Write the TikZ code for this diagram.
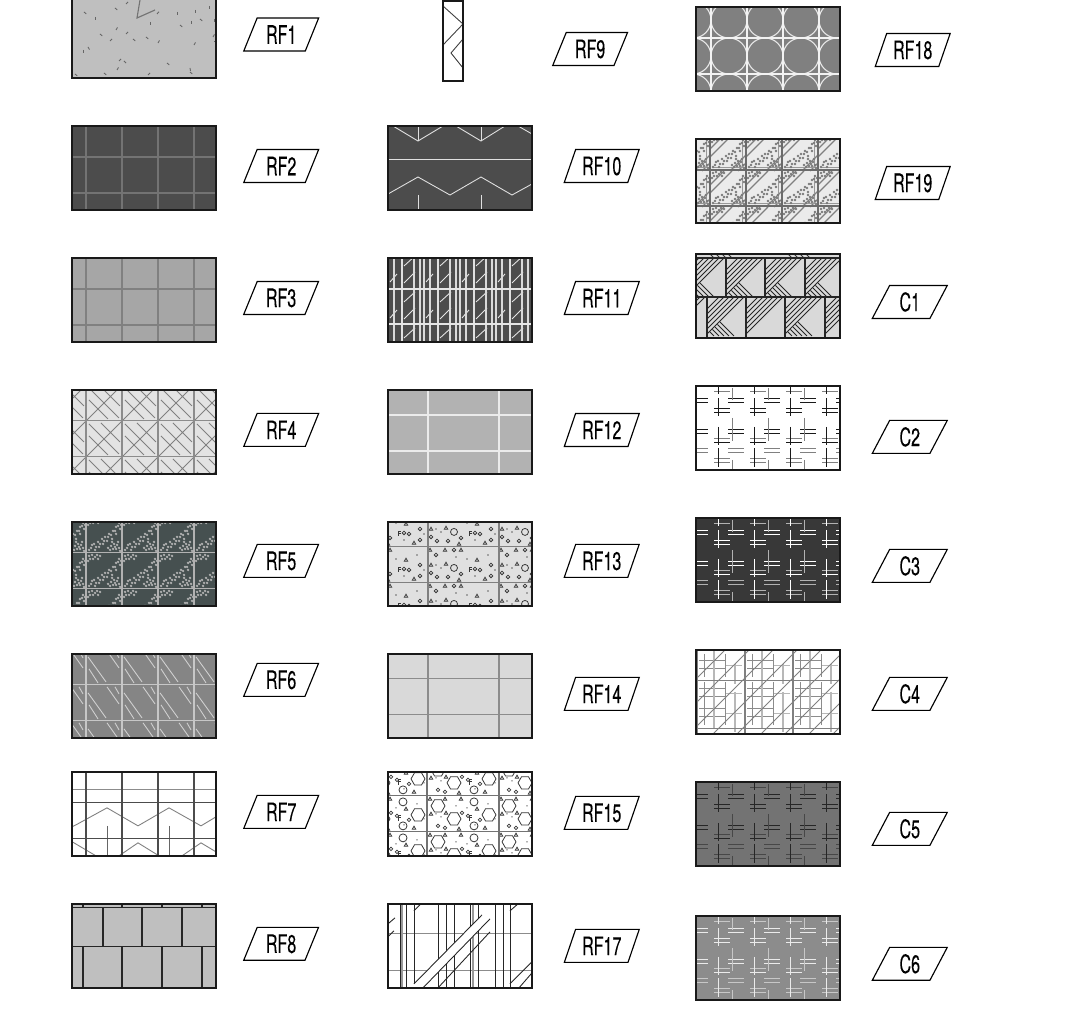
\documentclass[tikz,border=0pt]{standalone}
\usepackage{fontspec}
\setmainfont{TeX Gyre Heros}[FakeStretch=0.63, FakeBold=0.12]
\usetikzlibrary{positioning,shapes.geometric}
\definecolor{rfslate}{HTML}{465050}
\tikzset{
  panelbox/.style={minimum width=2.88cm, minimum height=1.68cm, inner sep=0pt, outer sep=0pt},
  panelframe/.style={line width=1pt, draw=black!90},
  joint/.style={line width=0.65pt},
  thinline/.style={line width=0.5pt},
  finecross/.style={line width=0.55pt},
  pebble/.style={line width=0.45pt, black!78},
  rftag/.style={trapezium, draw, trapezium left angle=65.6, trapezium right angle=114.4,
    trapezium stretches=true, minimum width=1.5cm, minimum height=0.66cm, inner sep=0pt, outer sep=0pt,
    line width=0.65pt, font=\fontsize{14.5}{14.5}\selectfont}
}
\newcommand{\hatchpanel}[4]{%
  \node[panelbox, #2] (#1) {};
  \begin{scope}
    \clip (#1.north west) rectangle (#1.south east);
    \fill[#3] (#1.north west) rectangle (#1.south east);
    \begin{scope}[shift={(#1.north west)}]
      #4
    \end{scope}
  \end{scope}
  \draw[panelframe] (#1.north west) rectangle (#1.south east);
}
\newcommand{\jointgrid}[1]{%
  \foreach \gx in {14,50,86,122} \draw[joint, #1] (\gx,0) -- (\gx,84);
  \foreach \gy in {31,67} \draw[joint, #1] (0,\gy) -- (144,\gy);
}
\newcommand{\widegrid}[1]{%
  \foreach \gx in {40,111} \draw[joint, #1] (\gx,0) -- (\gx,84);
  \foreach \gy in {25,61} \draw[joint, #1] (0,\gy) -- (144,\gy);
}
\newcommand{\graveltile}[1]{%
  \foreach \cx in {-22,14,50,86,122} \foreach \cy in {-5,31,67} {
    \begin{scope}[shift={(\cx,\cy)}]
      \foreach \gx/\gy in {3/3,6/2,9/4,4/6,7/6,11/2,2/8,12/6,14/3,25/29,28/27,31/28,27/32,30/32,33/31,24/33,29/30,22/31,26/25,32/25,34/34,
        5/31,8/27,10/30,12/25,14/27,16/22,18/24,19/20,22/20,23/17,25/18,27/14,29/14,30/10,32/9,6/28,33/6,3/33,9/33,13/30,17/27,21/24,26/22,30/17,34/12,35/8}
        \fill[#1] (\gx,\gy) circle (1.35);
    \end{scope}
  }
}
\newcommand{\pebblebits}{%
  \foreach \gx/\gy in {2/3,17/3,33/3,49/13,18/17,3/18,31/33,57/32}
    \draw[pebble] (\gx,\gy) ++(0,-1.7) -- ++(1.7,3) -- ++(-3.4,0) -- cycle;
  \foreach \gx/\gy in {28/10,39/12,60/8,8/18,13/21,67/23,47/29}
    \fill[black!60] (\gx,\gy) circle (0.85);
  \draw[pebble] (41,25) -- (41,20) -- (44,20) (41,22) -- (43.5,22);
}
\newcommand{\crosstile}[2]{%
  \foreach \cx in {-36,0,36,72,108} {
    \begin{scope}[shift={(\cx,0)}]
      \foreach \gy in {1,6,73,77,53} \draw[finecross, #2] (18,\gy) -- (34,\gy);
      \foreach \gy in {23,27,57} \draw[finecross, #1] (18,\gy) -- (34,\gy);
      \foreach \gy in {13,17,44,48} \draw[finecross, #1] (32,\gy) -- (48,\gy);
      \foreach \gy in {63,67} \draw[finecross, #2] (32,\gy) -- (48,\gy);
      \foreach \ga/\gb in {0/8,12/30,41/59,62/81} \draw[finecross, #1] (22,\ga) -- (22,\gb);
      \foreach \ga/\gb in {2/14,32/55,74/84} \draw[finecross, #2] (36,\ga) -- (36,\gb);
    \end{scope}
  }
}
\begin{document}
\begin{tikzpicture}[x=0.02cm, y=-0.02cm]
  \path[use as bounding box, clip] (0,0) rectangle (1091,1010);

  \hatchpanel{rf1}{at={(72,-6)}, anchor=north west}{black!25}{
    \draw[joint, black!55] (68,6) -- (65,24) -- (83,16);
    \foreach \gx/\gy/\ga in {12/18/40,23/23/90,43/14/40,54/10/-45,85/20/-50,105/18/90,123/16/90,137/12/90,
      108/31/40,119/27/90,128/25/40,142/25/90,78/28/90,44/36/-60,28/40/40,38/47/-45,54/40/-45,61/45/40,
      74/43/40,86/49/-60,122/51/-60,141/43/-60,142/47/0,16/53/60,11/56/90,47/67/-45,52/67/45,45/76/-60,
      95/69/40,118/74/80,118/78/40,32/79/40,3/80/40,76/81/-45}
      \draw[thinline, black!60] (\gx,\gy) -- ++(\ga:3);
  }
  \hatchpanel{rf2}{below=0.96cm of rf1}{black!70}{\jointgrid{black!55}}
  \hatchpanel{rf3}{below=0.96cm of rf2}{black!35}{\jointgrid{black!50}}
  \hatchpanel{rf4}{below=0.96cm of rf3}{black!11}{
    \foreach \cx in {-22,14,50,86,122} \foreach \cy in {-5,31,67} {
      \begin{scope}[shift={(\cx,\cy)}]
        \draw[thinline, black!50] (0,36) -- (36,0) (3,3) -- (33,33) (15,2) -- (34,21) (3,15) -- (22,34);
      \end{scope}
    }
    \jointgrid{black!45}
  }
  \hatchpanel{rf5}{below=0.96cm of rf4}{rfslate}{\graveltile{black!30}\jointgrid{black!30}}
  \hatchpanel{rf6}{below=0.96cm of rf5}{black!48}{
    \foreach \cx in {-22,14,50,86,122} \foreach \cy in {-5,31,67} {
      \begin{scope}[shift={(\cx,\cy)}]
        \draw[thinline, black!18] (2,8) -- (20,33) (3,20) -- (12,34) (21,2) -- (33,19) (29,2) -- (33,9);
      \end{scope}
    }
    \jointgrid{black!22}
  }
  \hatchpanel{rf7}{below=0.68cm of rf6}{white}{
    \draw[thinline, black!45] (0,18) -- (144,18);
    \draw[thinline, black!50] (0,55) -- (4,53) -- (35,36) -- (66,54) -- (97,36) -- (129,54) -- (144,45);
    \draw[thinline, black!50] (0,70) -- (2,71) -- (24,84) (47,84) -- (66,71) -- (87,84) (110,84) -- (129,71) -- (144,80);
    \foreach \gx in {35,97} \draw[thinline, black!60] (\gx,54) -- (\gx,84);
    \jointgrid{black!70}
  }
  \hatchpanel{rf8}{below=0.96cm of rf7}{black!25}{
    \draw[joint, black!85] (0,4) -- (144,4) (0,43) -- (144,43);
    \foreach \gx in {31,70,110} \draw[joint, black!85] (\gx,4) -- (\gx,43);
    \foreach \gx in {11,50,90,130} \draw[joint, black!85] (\gx,0) -- (\gx,4) (\gx,43) -- (\gx,84);
  }

  \hatchpanel{rf9}{at={(443,1)}, anchor=north west, minimum width=0.4cm, minimum height=1.6cm}{white}{
    \draw[thinline, black!75] (0,5) -- (20,23) -- (0,44) (20,38) -- (8,52) -- (20,67);
  }
  \hatchpanel{rf10}{at={(388,126)}, anchor=north west}{black!70}{
    \draw[thinline, black!12] (0,33) -- (144,33);
    \draw[thinline, black!12] (5,0) -- (30,15) -- (55,0) (68,0) -- (93,15) -- (117,0) (130,0) -- (144,8);
    \draw[thinline, black!12] (0,68) -- (30,51) -- (62,69) -- (93,51) -- (124,69) -- (144,58);
    \foreach \gx in {30,93} \draw[thinline, black!12] (\gx,0) -- (\gx,15) (\gx,69) -- (\gx,84);
  }
  \hatchpanel{rf11}{below=0.96cm of rf10}{black!70}{
    \foreach \gx in {14,50,86,122} {
      \begin{scope}[shift={(\gx,0)}]
        \draw[line width=0.9pt, black!12] (0,0) -- (0,84);
        \foreach \gy in {-5,31,67} \draw[thinline, black!10] (2,\gy+30) -- (13,\gy+19) (2,\gy+13) -- (13,\gy+3);
        \foreach \gy in {-5,31,67} \draw[thinline, black!10] (-12,\gy+29) -- (-5,\gy+21);
        \foreach \hx in {-14,-8,12,18} \draw[joint, black!15] (\hx,0) -- (\hx,84);
      \end{scope}
    }
    \foreach \gy in {31,66} \draw[joint, black!10] (0,\gy) -- (144,\gy);
  }
  \hatchpanel{rf12}{below=0.96cm of rf11}{black!30}{\widegrid{black!8}}
  \hatchpanel{rf13}{below=0.96cm of rf12}{black!12}{
    \foreach \cx in {-31,40,111} \foreach \cy in {-11,25,61} {
      \begin{scope}[shift={(\cx,\cy)}]
        \pebblebits
        \draw[pebble] (26,21) circle (3.5);
        \foreach \gx/\gy in {26/3,8/8,3/26,9/30,20/30,33/27,47/22,52/23,63/18,63/29}
          \draw[pebble] (\gx,\gy) circle (1.8);
      \end{scope}
    }
    \widegrid{black!50}
  }
  \hatchpanel{rf14}{below=0.96cm of rf13}{black!15}{\widegrid{black!45}}
  \hatchpanel{rf15}{below=0.68cm of rf14}{white}{
    \foreach \cx in {-31,40,111} \foreach \cy in {-12,24,60} {
      \begin{scope}[shift={(\cx,\cy)}]
        \pebblebits
        \foreach \gx/\gy in {10/10,26/23,61/19}
          \draw[pebble, shift={(\gx,\gy)}] (0:7) -- (60:7) -- (120:7) -- (180:7) -- (240:7) -- (300:7) -- cycle;
        \foreach \gx/\gy in {46/6,46/30} \draw[pebble] (\gx,\gy) circle (4);
        \foreach \gx/\gy in {10/30,17/32,34/17,40/20,52/24} \draw[pebble] (\gx,\gy) circle (1.8);
      \end{scope}
    }
    \foreach \gx in {39,111} \draw[joint, black!55] (\gx,0) -- (\gx,84);
    \foreach \gy in {24,60} \draw[joint, black!55] (0,\gy) -- (144,\gy);
  }
  \hatchpanel{rf17}{below=0.96cm of rf15}{white}{
    \foreach \gy in {30,67} \draw[thinline, black!45] (0,\gy) -- (144,\gy);
    \foreach \gx in {14,85} \draw[joint, black!40] (\gx,0) -- (\gx,84);
    \foreach \gx in {12,18,26,50,58,66,82,90,107,115,122} \draw[thinline, black!85] (\gx,0) -- (\gx,84);
    \fill[white] (26,80) -- (94,11) -- (102,15) -- (35,84) -- (26,84) -- cycle;
    \draw[thinline, black!85] (26,80) -- (94,11) (35,84) -- (102,15) (50,84) -- (102,28);
    \draw[thinline, black!85] (26,7) -- (33,0) (0,20) -- (7,14) (0,33) -- (6,27) (122,7) -- (130,0);
    \draw[thinline, black!85] (122,80) -- (144,58) (131,84) -- (144,69);
  }

  \hatchpanel{rf18}{at={(696,7)}, anchor=north west}{black!50}{
    \foreach \cx in {-3,33,69,105,141} \foreach \cy in {13,49,85}
      \draw[joint, black!10] (\cx,\cy) circle (18);
    \foreach \gx in {15,51,87,123} \draw[joint, black!5] (\gx,0) -- (\gx,84);
    \foreach \gy in {31,67} \draw[joint, black!5] (0,\gy) -- (144,\gy);
  }
  \hatchpanel{rf19}{below=0.96cm of rf18}{black!8}{
    \foreach \cx in {-22,14,50,86,122} \foreach \cy in {-4,32,68} {
      \begin{scope}[shift={(\cx,\cy)}]
        \draw[joint, black!50] (0,14) -- (14,0) (0,22) -- (22,0) (20,36) -- (36,20) (28,36) -- (36,28);
        \draw[thinline, black!40] (3,32) -- (32,32) -- (32,4);
      \end{scope}
    }
    \graveltile{black!52}
    \jointgrid{black!58}
  }
  \hatchpanel{c1}{below=0.62cm of rf19}{black!15}{
    \foreach \gx/\gy in {-9/4,30/4,69/4,109/4,-28/43,11/43,50/43,89/43,129/43} {
      \begin{scope}[shift={(\gx,\gy)}]
        \foreach \gd in {12,17,22,27,32,37} \draw[thinline, black!85] (0,\gd) -- (\gd,0);
      \end{scope}
    }
    \foreach \gx/\gy in {-9/4,30/4,69/4,109/4,11/43,89/43} {
      \begin{scope}[shift={(\gx,\gy)}]
        \foreach \gd in {12,17,22,27,32} \draw[thinline, black!85] ({(38-\gd)/2},{(38+\gd)/2}) -- ({39-\gd},39);
      \end{scope}
    }
    \foreach \gx in {14,20,26,32,92,98,104,110} \draw[thinline, black!80] (\gx,0) -- (\gx+4,4);
    \draw[joint, black!85] (0,4) -- (144,4) (0,43) -- (144,43);
    \foreach \gx in {30,69,109} \draw[joint, black!85] (\gx,4) -- (\gx,43);
    \foreach \gx in {11,50,89,129} \draw[joint, black!85] (\gx,43) -- (\gx,84);
  }
  \hatchpanel{c2}{below=0.96cm of c1}{white}{\crosstile{black!90}{black!50}}
  \hatchpanel{c3}{below=0.96cm of c2}{black!78}{\crosstile{white}{black!30}}
  \hatchpanel{c4}{below=0.96cm of c3}{white}{
    \foreach \cx in {0,48,96} \foreach \cy in {0,28,48} {
      \begin{scope}[shift={(\cx,\cy)}]
        \draw[thinline, black!45] (3,11) -- (30,11) (3,19) -- (30,19) (8,4) -- (8,27) (29,4) -- (29,27);
        \draw[joint, black!28] (30,16) -- (46,16) (18,0) -- (18,30) (39,14) -- (39,34);
      \end{scope}
    }
    \foreach \gd in {29,53,...,221} \draw[thinline, black!50] (0,\gd) -- (\gd,0);
    \foreach \gx in {1,49,97} \draw[joint, black!50] (\gx,0) -- (\gx,84);
    \foreach \gy in {31,79} \draw[joint, black!50] (0,\gy) -- (144,\gy);
  }
  \hatchpanel{c5}{below=0.96cm of c4}{black!55}{\crosstile{black!85}{black!72}}
  \hatchpanel{c6}{below=1cm of c5}{black!45}{\crosstile{black!8}{black!22}}

  \node[rftag, right=0.69cm of rf1, yshift=0.03cm] (rf1tag) {RF1};
  \node[rftag, right=0.69cm of rf2, yshift=0.04cm] (rf2tag) {RF2};
  \node[rftag, right=0.69cm of rf3, yshift=0.04cm] (rf3tag) {RF3};
  \node[rftag, right=0.69cm of rf4, yshift=0.04cm] (rf4tag) {RF4};
  \node[rftag, right=0.69cm of rf5, yshift=0.06cm] (rf5tag) {RF5};
  \node[rftag, right=0.69cm of rf6, yshift=0.32cm] (rf6tag) {RF6};
  \node[rftag, right=0.69cm of rf7, yshift=0.04cm] (rf7tag) {RF7};
  \node[rftag, right=0.69cm of rf8, yshift=0.04cm] (rf8tag) {RF8};
  \node[rftag, right=1.93cm of rf9, yshift=-0.16cm] (rf9tag) {RF9};
  \node[rftag, right=0.76cm of rf10, yshift=0.04cm] (rf10tag) {RF10};
  \node[rftag, right=0.76cm of rf11, yshift=0.04cm] (rf11tag) {RF11};
  \node[rftag, right=0.76cm of rf12, yshift=0.04cm] (rf12tag) {RF12};
  \node[rftag, right=0.76cm of rf13, yshift=0.06cm] (rf13tag) {RF13};
  \node[rftag, right=0.76cm of rf14, yshift=0.04cm] (rf14tag) {RF14};
  \node[rftag, right=0.76cm of rf15, yshift=0.02cm] (rf15tag) {RF15};
  \node[rftag, right=0.76cm of rf17] (rf17tag) {RF17};
  \node[rftag, right=0.82cm of rf18, yshift=-0.02cm] (rf18tag) {RF18};
  \node[rftag, right=0.82cm of rf19, yshift=-0.04cm] (rf19tag) {RF19};
  \node[rftag, right=0.82cm of c1, yshift=-0.12cm] (c1tag) {C1};
  \node[rftag, right=0.82cm of c2, yshift=-0.18cm] (c2tag) {C2};
  \node[rftag, right=0.82cm of c3, yshift=-0.12cm] (c3tag) {C3};
  \node[rftag, right=0.82cm of c4, yshift=-0.04cm] (c4tag) {C4};
  \node[rftag, right=0.82cm of c5, yshift=-0.1cm] (c5tag) {C5};
  \node[rftag, right=0.82cm of c6, yshift=-0.12cm] (c6tag) {C6};
\end{tikzpicture}
\end{document}
